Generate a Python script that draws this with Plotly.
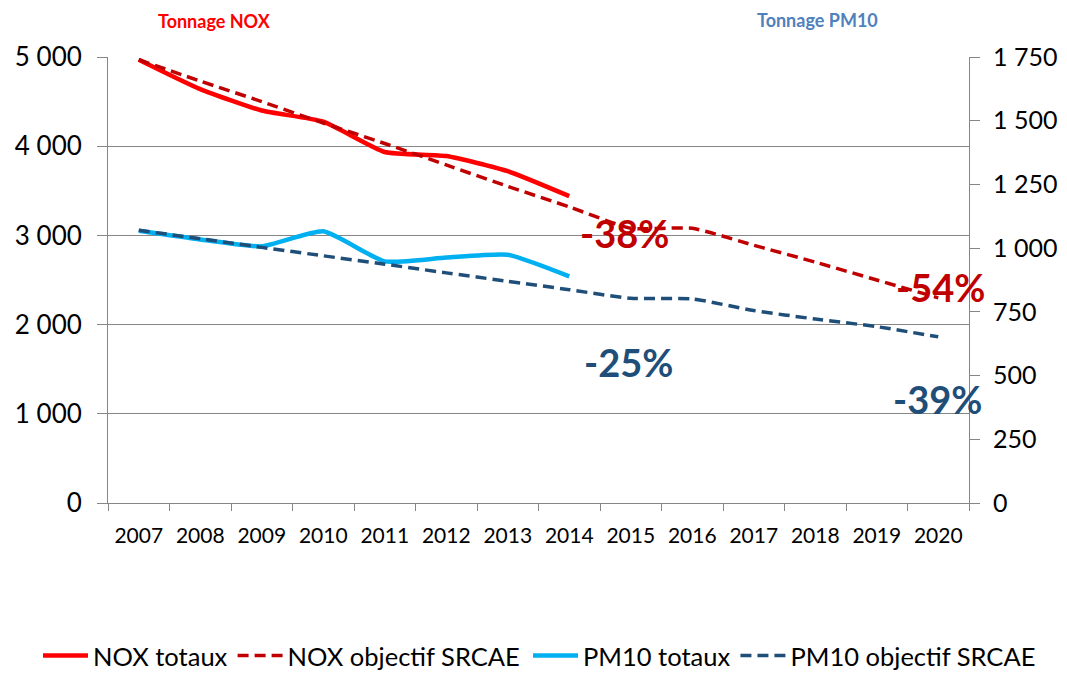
import plotly.graph_objects as go

years = [str(y) for y in range(2007, 2021)]

nox_totaux = [4970, 4640, 4400, 4275, 3935, 3890, 3720, 3440]
nox_objectif = [4970, 4730, 4500, 4260, 4030, 3790, 3550, 3320, 3080, 3080, 2890, 2700, 2500, 2300]
pm10_totaux = [1068, 1034, 1007, 1066, 948, 963, 974, 889]
pm10_objectif = [1070, 1037, 1003, 970, 937, 903, 870, 837, 803, 801, 755, 722, 692, 652]

left_ticks = [0, 1000, 2000, 3000, 4000, 5000]
left_tick_labels = ["0", "1 000", "2 000", "3 000", "4 000", "5 000"]
right_ticks = [0, 250, 500, 750, 1000, 1250, 1500, 1750]
right_tick_labels = ["0", "250", "500", "750", "1 000", "1 250", "1 500", "1 750"]

pct_labels = ["-38%", "-54%", "-25%", "-39%"]

FONT = "Lato"
AX = "#868686"

fig = go.Figure()
fig.add_trace(go.Scatter(x=years[:len(nox_totaux)], y=nox_totaux, name="NOX totaux", legend="legend",
                         mode="lines", line=dict(color="#FF0000", width=4.5, shape="spline", smoothing=0.5)))
fig.add_trace(go.Scatter(x=years, y=nox_objectif, name="NOX objectif SRCAE", legend="legend",
                         mode="lines", line=dict(color="#C00000", width=3.5, dash="11px,6px", shape="spline", smoothing=0.5)))
fig.add_trace(go.Scatter(x=years[:len(pm10_totaux)], y=pm10_totaux, name="PM10 totaux", yaxis="y2", legend="legend2",
                         mode="lines", line=dict(color="#00B0F0", width=4.5, shape="spline", smoothing=0.5)))
fig.add_trace(go.Scatter(x=years, y=pm10_objectif, name="PM10 objectif SRCAE", yaxis="y2", legend="legend2",
                         mode="lines", line=dict(color="#1F4E79", width=3.5, dash="11px,6px", shape="spline", smoothing=0.5)))

# page body has an 8px margin: figure drawn at (8, 8) in the window
OFF = 8
W, H = 1067 - OFF, 674 - OFF
# plot area in window pixels
L, R, T, B = 108, 969, 57, 503
pw, ph = R - L, B - T


def px(x):
    return (x - L) / pw


def py(y):
    return (B - y) / ph


annots = [
    dict(text="Tonnage NOX", x=px(214), y=py(21), color="#FF0000", size=18),
    dict(text="Tonnage PM10", x=px(817), y=py(20), color="#4F81BD", size=18),
    dict(text=pct_labels[0], x=px(624), y=py(233), color="#C00000", size=38),
    dict(text=pct_labels[1], x=px(940), y=py(287), color="#C00000", size=38),
    dict(text=pct_labels[2], x=px(628), y=py(362), color="#1F4E79", size=38),
    dict(text=pct_labels[3], x=px(937), y=py(399), color="#1F4E79", size=38),
]
for a in annots:
    fig.add_annotation(xref="paper", yref="paper", x=a["x"], y=a["y"], text="<b>%s</b>" % a["text"],
                       showarrow=False, xanchor="center", yanchor="middle",
                       font=dict(family=FONT, size=a["size"], color=a["color"]))

legend_style = dict(orientation="h", xanchor="left", yanchor="middle", y=py(656),
                    font=dict(family=FONT, size=25.5, color="black"), itemwidth=45,
                    tracegroupgap=0, bgcolor="rgba(0,0,0,0)")

fig.update_layout(
    width=W, height=H,
    margin=dict(l=L - OFF, r=W - (R - OFF), t=T - OFF, b=H - (B - OFF), autoexpand=False),
    plot_bgcolor="white", paper_bgcolor="white",
    font=dict(family=FONT, color="black"),
    showlegend=True,
    legend=dict(x=px(38), **legend_style),
    legend2=dict(x=px(528), **legend_style),
    xaxis=dict(type="category", categoryorder="array", categoryarray=years,
               range=[-0.5, len(years) - 0.5], tickson="boundaries",
               ticks="outside", ticklen=7, tickcolor=AX, showline=True, linecolor=AX, linewidth=1,
               showgrid=False, tickfont=dict(family=FONT, size=21), zeroline=False,
               ticklabelstandoff=14),
    yaxis=dict(range=[0, 5000], tickvals=left_ticks, ticktext=left_tick_labels,
               ticks="outside", ticklen=10, tickcolor=AX, showline=True, linecolor=AX, linewidth=1,
               showgrid=True, gridcolor=AX, gridwidth=1, zeroline=False,
               tickfont=dict(family=FONT, size=26), ticklabelstandoff=10),
    yaxis2=dict(range=[0, 1750], tickvals=right_ticks, ticktext=right_tick_labels, overlaying="y", side="right",
                ticks="outside", ticklen=10, tickcolor=AX, showline=True, linecolor=AX, linewidth=1,
                showgrid=False, zeroline=False, tickfont=dict(family=FONT, size=25), ticklabelstandoff=8),
)

fig.write_html("out.html")
